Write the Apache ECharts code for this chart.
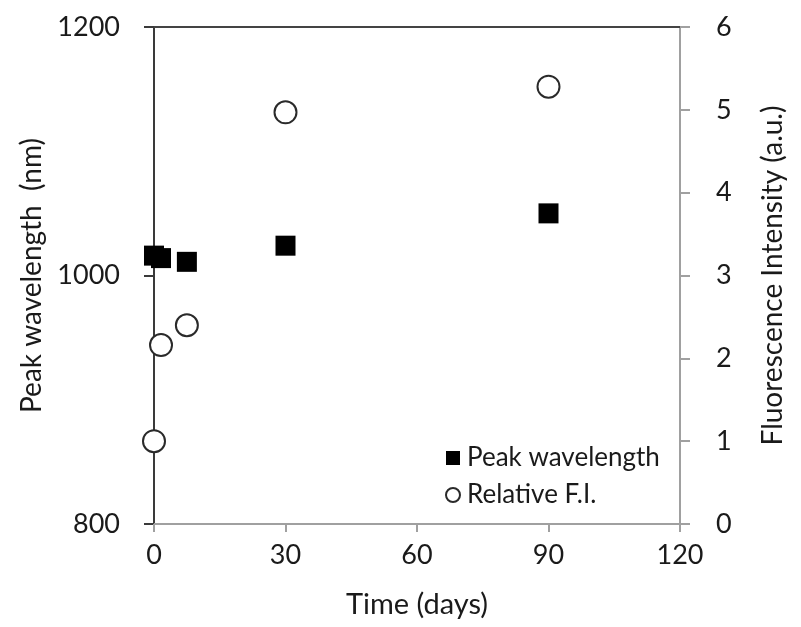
<!DOCTYPE html>
<html>
<head>
<meta charset="utf-8">
<script src="https://cdn.jsdelivr.net/npm/echarts@6/dist/echarts.min.js"></script>
<style>
  html, body { margin: 0; padding: 0; background: #fff; }
  #chart { width: 801px; height: 627px; }
</style>
</head>
<body>
<div id="chart"></div>
<script>
// Storage time of the samples, in days
const days = [0, 1.6, 7.5, 30, 90];
// Emission peak position (nm), left axis
const peakWavelength = [1016, 1014, 1011, 1024, 1050];
// Relative fluorescence intensity (a.u.), right axis
const relativeFI = [1.0, 2.16, 2.4, 4.97, 5.28];

const xTicks = [0, 30, 60, 90, 120];
const leftTicks = [800, 1000, 1200];
const rightTicks = [0, 1, 2, 3, 4, 5, 6];

const FONT = 'Lato';
const TXT = '#1a1a1a';
const plain = v => String(v);

const chart = echarts.init(document.getElementById('chart'), null, { renderer: 'canvas' });

chart.setOption({
  backgroundColor: '#ffffff',
  animation: false,
  textStyle: { fontFamily: FONT },
  grid: { left: 154, right: 121, top: 27, bottom: 103, containLabel: false },
  legend: {
    orient: 'vertical',
    left: 440,
    top: 440,
    itemWidth: 14,
    itemHeight: 14,
    itemGap: 11,
    textStyle: { fontFamily: FONT, fontSize: 26, color: TXT, padding: [0, 0, 0, 2] },
    data: [
      { name: 'Peak wavelength', icon: 'rect' },
      { name: 'Relative F.I.', icon: 'circle' }
    ]
  },
  xAxis: [
    {
      type: 'value',
      position: 'bottom',
      min: xTicks[0],
      max: xTicks[xTicks.length - 1],
      interval: 30,
      name: 'Time (days)',
      nameLocation: 'middle',
      nameGap: 66,
      nameTextStyle: { fontFamily: FONT, fontSize: 29, color: TXT },
      axisLine: { show: true, lineStyle: { color: '#a0a0a0', width: 2 } },
      axisTick: { show: true, inside: false, length: 8, lineStyle: { color: '#a0a0a0', width: 2 } },
      axisLabel: { margin: 18, fontFamily: FONT, fontSize: 27, color: TXT, formatter: plain },
      splitLine: { show: false }
    },
    {
      // closing line along the top of the plot
      type: 'value',
      position: 'top',
      min: xTicks[0],
      max: xTicks[xTicks.length - 1],
      axisLine: { show: true, onZero: false, lineStyle: { color: '#444', width: 2 } },
      axisTick: { show: false },
      axisLabel: { show: false },
      splitLine: { show: false }
    }
  ],
  yAxis: [
    {
      type: 'value',
      position: 'left',
      min: leftTicks[0],
      max: leftTicks[leftTicks.length - 1],
      interval: 200,
      name: 'Peak wavelength  (nm)',
      nameLocation: 'middle',
      nameGap: 104,
      nameRotate: 90,
      nameTextStyle: { fontFamily: FONT, fontSize: 28, color: TXT },
      axisLine: { show: true, onZero: false, lineStyle: { color: '#3a3a3a', width: 2 } },
      axisTick: { show: true, inside: false, length: 10, lineStyle: { color: '#3a3a3a', width: 2 } },
      axisLabel: { margin: 34, fontFamily: FONT, fontSize: 27, color: TXT, formatter: plain },
      splitLine: { show: false }
    },
    {
      type: 'value',
      position: 'right',
      min: rightTicks[0],
      max: rightTicks[rightTicks.length - 1],
      interval: 1,
      name: 'Fluorescence Intensity (a.u.)',
      nameLocation: 'middle',
      nameGap: 79,
      nameRotate: 90,
      nameTextStyle: { fontFamily: FONT, fontSize: 28, color: TXT },
      axisLine: { show: true, onZero: false, lineStyle: { color: '#a0a0a0', width: 2 } },
      axisTick: { show: true, inside: false, length: 10, lineStyle: { color: '#a0a0a0', width: 2 } },
      axisLabel: { margin: 36, fontFamily: FONT, fontSize: 27, color: TXT, formatter: plain },
      splitLine: { show: false }
    }
  ],
  series: [
    {
      name: 'Peak wavelength',
      type: 'scatter',
      xAxisIndex: 0,
      yAxisIndex: 0,
      symbol: 'rect',
      symbolSize: 20,
      clip: false,
      itemStyle: { color: '#000000', opacity: 1 },
      data: days.map((d, i) => [d, peakWavelength[i]])
    },
    {
      name: 'Relative F.I.',
      type: 'scatter',
      xAxisIndex: 0,
      yAxisIndex: 1,
      symbol: 'circle',
      symbolSize: 22,
      clip: false,
      itemStyle: { color: '#ffffff', borderColor: '#2a2a2a', borderWidth: 2, opacity: 1 },
      data: days.map((d, i) => [d, relativeFI[i]])
    }
  ]
});
</script>
</body>
</html>
